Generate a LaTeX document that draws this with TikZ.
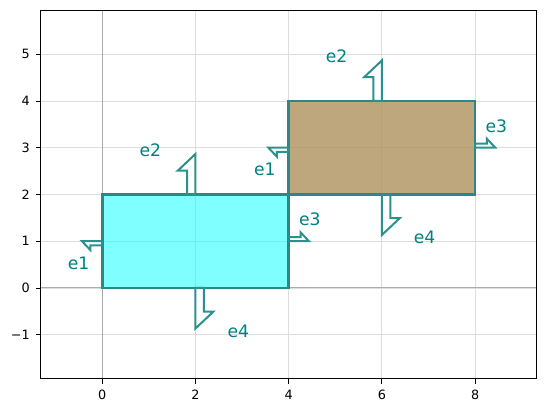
\documentclass[tikz,border=0pt]{standalone}
\usepackage{fontspec}
\setmainfont{DejaVu Sans}
\definecolor{edgecol}{RGB}{45,135,130}
\definecolor{arrcol}{RGB}{42,145,140}
\definecolor{labcol}{RGB}{0,128,128}
\definecolor{cyanfill}{RGB}{0,255,255}
\definecolor{tanfill}{RGB}{174,145,92}
\definecolor{gridcol}{RGB}{222,222,222}
\definecolor{zerocol}{RGB}{172,172,172}
\tikzset{
  gridline/.style={draw=gridcol, line width=0.9pt},
  zeroline/.style={draw=zerocol, line width=1pt},
  rectedge/.style={draw=edgecol, line width=2.8pt, line join=miter},
  halfarr/.style={draw=arrcol, line width=2pt, line join=miter},
  lab/.style={text=labcol, inner sep=0pt, font=\fontsize{17.2}{20}\selectfont},
  ticklab/.style={inner sep=0pt, font=\fontsize{12.8}{15}\selectfont},
  tickmark/.style={draw=black, line width=0.9pt}
}
\newcommand{\halfarrow}[4]{% x, y, angle, scale
  \begin{scope}[shift={(#1,#2)}, rotate=#3, scale=#4]
    \draw[halfarr] (0,0) -- (0.87,0) -- (0.51,0.38) -- (0.51,0.18) -- (0,0.18) -- cycle;
  \end{scope}}
\begin{document}
\begin{tikzpicture}[x=46.6pt,y=46.75pt]
\useasboundingbox (-2.195,-2.674) rectangle (9.522,6.160);
% grid
\foreach \x in {0,2,4,6,8} \draw[gridline] (\x,-1.947) -- (\x,5.94);
\foreach \y in {-1,0,1,2,3,4,5} \draw[gridline] (-1.322,\y) -- (9.313,\y);
\draw[zeroline] (0,-1.947) -- (0,5.94);
\draw[zeroline] (-1.322,0) -- (9.313,0);
% rectangle 1
\fill[cyanfill, fill opacity=0.5] (0,0) rectangle (4,2);
\draw[rectedge] (0,0) rectangle (4,2);
\halfarrow{0}{1}{180}{0.5}
\halfarrow{2}{2}{90}{1}
\halfarrow{4}{1}{0}{0.5}
\halfarrow{2}{0}{270}{1}
% rectangle 2
\fill[tanfill, fill opacity=0.8] (4,2) rectangle (8,4);
\draw[rectedge] (4,2) rectangle (8,4);
\halfarrow{4}{3}{180}{0.5}
\halfarrow{6}{4}{90}{1}
\halfarrow{8}{3}{0}{0.5}
\halfarrow{6}{2}{270}{1}
% labels
\node[lab] (aeone) at (-0.51,0.53) {e1};
\node[lab] (aetwo) at (1.03,2.95) {e2};
\node[lab] (aethree) at (4.455,1.47) {e3};
\node[lab] (aefour) at (2.918,-0.93) {e4};
\node[lab] (beone) at (3.49,2.53) {e1};
\node[lab] (betwo) at (5.03,4.95) {e2};
\node[lab] (bethree) at (8.455,3.47) {e3};
\node[lab] (befour) at (6.918,1.08) {e4};
% frame
\draw[line width=1pt] (-1.322,-1.947) rectangle (9.313,5.94);
% ticks
\foreach \x in {0,2,4,6,8} {
  \draw[tickmark] (\x,-1.947) -- ++(0,-5pt);
  \node[ticklab] (xt\x) at (\x,-2.282) {\x};
}
\foreach \y/\t in {-1/−1,0/0,1/1,2/2,3/3,4/4,5/5} {
  \draw[tickmark] (-1.322,\y) -- ++(-5pt,0);
  \node[ticklab, anchor=east] (yt\y) at (-1.552,\y) {\t};
}
\end{tikzpicture}
\end{document}
